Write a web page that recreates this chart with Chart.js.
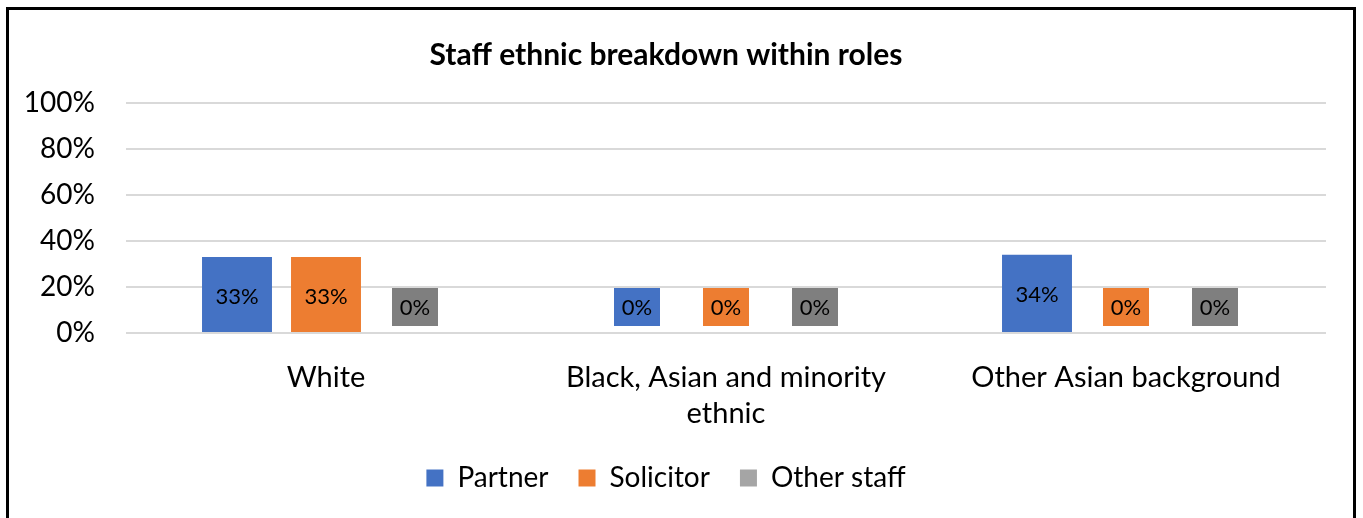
<!DOCTYPE html>
<html>
<head>
<meta charset="utf-8">
<script src="https://cdn.jsdelivr.net/npm/chart.js@4.4.0/dist/chart.umd.min.js"></script>
<style>
  html, body { margin: 0; padding: 0; background: #fff; }
  #wrap { position: relative; width: 1363px; height: 518px; }
</style>
</head>
<body>
<div id="wrap"><canvas id="roles"></canvas></div>
<script>
var categories = ['White', ['Black, Asian and minority', 'ethnic'], 'Other Asian background'];
var seriesNames = ['Partner', 'Solicitor', 'Other staff'];
var partner = [0.33, 0, 0.34];
var solicitor = [0.33, 0, 0];
var otherStaff = [0, 0, 0];
var yTicks = [0, 0.2, 0.4, 0.6, 0.8, 1];

var fontFamily = 'Lato, "Open Sans", sans-serif';
var seriesColors = ['#4472c4', '#ed7d31', '#a5a5a5'];
var labelFill = ['#4472c4', '#ed7d31', '#7f7f7f'];

function pct(v) {
    return Math.round(v * 100) + '%';
}

// frame round the whole chart
var framePlugin = {
    id: 'frame',
    beforeDraw: function(chart) {
        var ctx = chart.ctx;
        ctx.save();
        ctx.fillStyle = '#fff';
        ctx.fillRect(0, 0, chart.width, chart.height);
        ctx.strokeStyle = '#000';
        ctx.lineWidth = 3;
        ctx.strokeRect(7.5, 8.5, 1347, 540);
        ctx.restore();
    }
};

// excel style data labels, zero values get a filled box
var labelPlugin = {
    id: 'barLabels',
    afterDatasetsDraw: function(chart) {
        var ctx = chart.ctx;
        var zeroY = chart.scales.y.getPixelForValue(0);
        ctx.save();
        ctx.font = '22px ' + fontFamily;
        ctx.textAlign = 'center';
        ctx.textBaseline = 'middle';
        chart.data.datasets.forEach(function(ds, i) {
            var meta = chart.getDatasetMeta(i);
            meta.data.forEach(function(bar, j) {
                var v = ds.data[j];
                if (v === 0) {
                    var w = 46, h = 38;
                    var top = zeroY - 7 - h;
                    ctx.fillStyle = labelFill[i];
                    ctx.fillRect(bar.x - w / 2, top, w, h);
                    ctx.fillStyle = '#000';
                    ctx.fillText(pct(v), bar.x, top + h / 2 + 1);
                } else {
                    ctx.fillStyle = '#000';
                    ctx.fillText(pct(v), bar.x, (bar.y + bar.base) / 2 + 2);
                }
            });
        });
        ctx.restore();
    }
};

var series = [partner, solicitor, otherStaff];

new Chart(document.getElementById('roles'), {
    type: 'bar',
    data: {
        labels: categories,
        datasets: seriesNames.map(function(name, i) {
            return {
                label: name,
                data: series[i],
                backgroundColor: seriesColors[i],
                categoryPercentage: 0.6675,
                barPercentage: 0.786
            };
        })
    },
    options: {
        responsive: true,
        maintainAspectRatio: false,
        animation: false,
        devicePixelRatio: 1,
        layout: {
            padding: { left: 6, right: 37, top: 0, bottom: 16 }
        },
        plugins: {
            title: {
                display: true,
                text: 'Staff ethnic breakdown within roles',
                color: '#000',
                font: { family: fontFamily, size: 30, weight: 'bold' },
                padding: { top: 37, bottom: 30 }
            },
            legend: {
                position: 'bottom',
                labels: {
                    color: '#000',
                    boxWidth: 17,
                    boxHeight: 17,
                    padding: 30,
                    font: { family: fontFamily, size: 28 }
                }
            },
            tooltip: { enabled: false }
        },
        scales: {
            x: {
                afterFit: function(scale) { scale.height = 101; },
                grid: { display: false, drawTicks: false },
                border: { display: false },
                ticks: {
                    color: '#000',
                    padding: 26,
                    maxRotation: 0,
                    font: { family: fontFamily, size: 29, lineHeight: 1.26 }
                }
            },
            y: {
                min: 0,
                max: 1,
                afterFit: function(scale) { scale.width = 120; },
                afterBuildTicks: function(scale) {
                    scale.ticks = yTicks.map(function(v) { return { value: v }; });
                },
                grid: { color: '#d9d9d9', lineWidth: 2, drawTicks: false },
                border: { display: false },
                ticks: {
                    color: '#000',
                    padding: 31,
                    font: { family: fontFamily, size: 28 },
                    callback: function(v) { return pct(v); }
                }
            }
        }
    },
    plugins: [framePlugin, labelPlugin]
});
</script>
</body>
</html>
